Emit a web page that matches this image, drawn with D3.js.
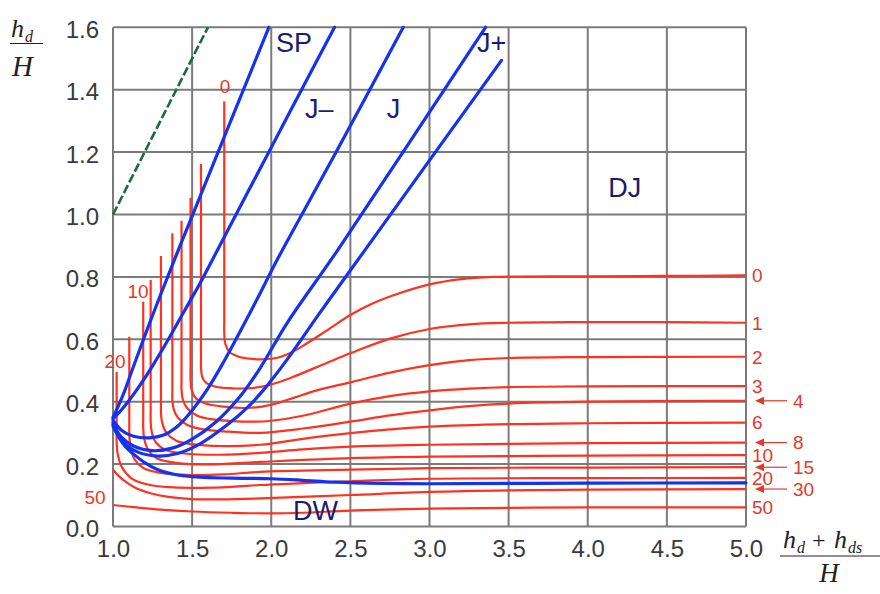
<!DOCTYPE html>
<html>
<head>
<meta charset="utf-8">
<script src="https://cdn.jsdelivr.net/npm/d3@7"></script>
<style>
  body { margin: 0; background: #fff; }
  text { font-family: "Liberation Sans", Arial, sans-serif; }
  text.math { font-family: "Liberation Serif", "Times New Roman", serif; }
</style>
</head>
<body>
<svg id="chart" width="880" height="594"></svg>
<script>
// Axis ticks
const xTicks = [1.0, 1.5, 2.0, 2.5, 3.0, 3.5, 4.0, 4.5, 5.0];
const yTicks = [0.0, 0.2, 0.4, 0.6, 0.8, 1.0, 1.2, 1.4, 1.6];

// Red family of curves, one trace per parameter value
const redLabels = ["0", "1", "2", "3", "4", "6", "8", "10", "15", "20", "30", "50"];
const red0 = [[1.703,1.362],[1.703,0.66],[1.703,0.62],[1.71,0.585],[1.735,0.56],[1.79,0.545],[1.88,0.537],[1.95,0.536],[2.04,0.541],[2.12,0.556],[2.2,0.579],[2.35,0.628],[2.5,0.678],[2.65,0.717],[2.8,0.746],[3.0,0.776],[3.2,0.793],[3.4,0.8],[4.0,0.802],[4.5,0.803],[5.0,0.805]];
const red1 = [[1.556,1.162],[1.556,0.54],[1.556,0.508],[1.564,0.479],[1.59,0.46],[1.65,0.448],[1.75,0.443],[1.85,0.443],[1.95,0.449],[2.05,0.463],[2.15,0.482],[2.35,0.524],[2.5,0.555],[2.75,0.602],[3.0,0.633],[3.25,0.648],[3.5,0.653],[4.0,0.655],[4.5,0.655],[5.0,0.653]];
const red2 = [[1.49,1.054],[1.49,0.5],[1.49,0.467],[1.497,0.437],[1.522,0.412],[1.58,0.395],[1.7,0.384],[1.85,0.38],[1.95,0.385],[2.05,0.397],[2.15,0.414],[2.3,0.438],[2.5,0.462],[2.75,0.493],[3.0,0.517],[3.25,0.533],[3.5,0.54],[4.0,0.543],[5.0,0.544]];
const red3 = [[1.433,0.98],[1.433,0.47],[1.433,0.437],[1.441,0.407],[1.468,0.38],[1.53,0.356],[1.62,0.344],[1.75,0.338],[1.9,0.336],[2.0,0.339],[2.2,0.355],[2.5,0.394],[2.75,0.418],[3.0,0.433],[3.25,0.442],[3.5,0.447],[4.0,0.449],[5.0,0.45]];
const red4 = [[1.375,0.94],[1.375,0.44],[1.375,0.407],[1.383,0.377],[1.408,0.35],[1.47,0.325],[1.56,0.312],[1.7,0.305],[1.93,0.3],[2.2,0.314],[2.5,0.336],[2.75,0.356],[3.0,0.372],[3.25,0.386],[3.5,0.394],[4.0,0.4],[5.0,0.403]];
const red6 = [[1.303,0.867],[1.303,0.4],[1.303,0.367],[1.311,0.332],[1.338,0.3],[1.4,0.275],[1.5,0.264],[1.68,0.258],[1.93,0.262],[2.2,0.281],[2.5,0.299],[2.75,0.311],[3.0,0.32],[3.5,0.328],[4.0,0.331],[5.0,0.333]];
const red8 = [[1.238,0.79],[1.238,0.37],[1.238,0.337],[1.245,0.302],[1.27,0.27],[1.33,0.246],[1.45,0.234],[1.68,0.23],[1.93,0.236],[2.2,0.247],[2.5,0.256],[3.0,0.262],[3.5,0.265],[4.0,0.267],[5.0,0.269]];
const red10 = [[1.191,0.72],[1.191,0.35],[1.191,0.317],[1.197,0.282],[1.223,0.245],[1.28,0.218],[1.4,0.204],[1.6,0.199],[1.93,0.207],[2.5,0.219],[3.0,0.224],[4.0,0.227],[5.0,0.229]];
const red15 = [[1.103,0.608],[1.103,0.33],[1.103,0.297],[1.11,0.257],[1.134,0.217],[1.19,0.188],[1.3,0.172],[1.5,0.165],[1.7,0.167],[1.93,0.175],[2.5,0.182],[3.0,0.187],[4.0,0.189],[5.0,0.19]];
const red20 = [[1.023,0.496],[1.023,0.31],[1.023,0.272],[1.03,0.232],[1.054,0.192],[1.11,0.157],[1.2,0.137],[1.35,0.126],[1.55,0.124],[1.75,0.127],[1.93,0.133],[2.2,0.139],[2.5,0.145],[3.0,0.153],[4.0,0.155],[5.0,0.156]];
const red30 = [[1.0,0.182],[1.04,0.16],[1.09,0.14],[1.15,0.122],[1.25,0.105],[1.35,0.095],[1.5,0.088],[1.7,0.087],[1.93,0.09],[2.5,0.101],[3.0,0.111],[3.5,0.116],[4.0,0.118],[5.0,0.12]];
const red50 = [[1.0,0.069],[1.15,0.061],[1.3,0.054],[1.5,0.048],[1.75,0.044],[2.0,0.042],[2.2,0.044],[2.5,0.051],[3.0,0.057],[3.5,0.06],[4.0,0.061],[5.0,0.0615]];
const redCurves = [red0, red1, red2, red3, red4, red6, red8, red10, red15, red20, red30, red50];
// end-of-curve labels that sit further out with a pointer
const arrowLabels = ["4", "8", "15", "30"];
// labels written beside the vertical branches: [label, x, y]
const branchLabels = [["0", 1.708, 1.41], ["10", 1.158, 0.753], ["20", 1.013, 0.531], ["50", 0.886, 0.095]];

// Blue regime boundaries
const blueSP = [[1.0,0.35],[1.03,0.382],[1.07,0.43],[1.12,0.5],[1.2,0.61],[1.3,0.742],[1.4,0.87],[1.5,0.995],[1.7,1.245],[1.985,1.6]];
const blueJminus = [[1.0,0.345],[1.05,0.372],[1.1,0.403],[1.16,0.445],[1.25,0.515],[1.35,0.6],[1.45,0.69],[1.55,0.78],[1.7,0.925],[2.0,1.215],[2.2,1.408],[2.4,1.6]];
const blueJ = [[1.0,0.34],[1.06,0.306],[1.13,0.289],[1.23,0.284],[1.32,0.293],[1.4,0.318],[1.48,0.36],[1.6,0.443],[1.7,0.528],[1.8,0.622],[1.92,0.738],[2.03,0.848],[2.41,1.2],[2.834,1.6]];
const blueJplus = [[1.0,0.333],[1.05,0.288],[1.13,0.258],[1.25,0.243],[1.38,0.252],[1.5,0.28],[1.65,0.335],[1.8,0.415],[1.93,0.508],[2.1,0.652],[2.42,0.886],[3.354,1.6]];
const blueJplus2 = [[1.0,0.327],[1.06,0.272],[1.15,0.24],[1.28,0.226],[1.4,0.233],[1.55,0.265],[1.72,0.325],[1.85,0.382],[1.95,0.437],[2.1,0.535],[2.3,0.68],[2.592,0.886],[3.455,1.494]];
const blueDW = [[1.0,0.322],[1.04,0.283],[1.08,0.255],[1.13,0.232],[1.2,0.205],[1.28,0.183],[1.4,0.166],[1.55,0.158],[1.75,0.155],[2.0,0.153],[2.2,0.148],[2.4,0.142],[2.7,0.138],[3.0,0.137],[4.0,0.139],[5.0,0.14]];
const blueCurves = [blueSP, blueJminus, blueJ, blueJplus, blueJplus2, blueDW];

// Regime names: [text, x, y]
const regimeLabels = [["SP", 2.03, 1.52], ["J–", 2.213, 1.31], ["J", 2.73, 1.31], ["J+", 3.3, 1.52], ["DJ", 4.13, 1.055], ["DW", 2.137, 0.021]];

// Limit line hd/H = (hd + hds)/H
const limitLine = [[1.0, 1.0], [1.6, 1.6]];

const svg = d3.select("#chart");
const x = d3.scaleLinear().domain([1, 5]).range([113, 746]);
const y = d3.scaleLinear().domain([0, 1.6]).range([526.5, 27.3]);

const gridColor = "#7b7b7b";
const redColor = "#ff3220";
const redText = "#e2392c";
const blueColor = "#1632f0";
const navy = "#1c1c6e";

// Grid
const grid = svg.append("g");
grid.selectAll("line.v").data(xTicks).join("line")
  .attr("x1", d => x(d)).attr("x2", d => x(d))
  .attr("y1", y(0)).attr("y2", y(1.6))
  .attr("stroke", gridColor).attr("stroke-width", 2);
grid.selectAll("line.h").data(yTicks).join("line")
  .attr("class", "h")
  .attr("x1", x(1)).attr("x2", x(5))
  .attr("y1", d => y(d)).attr("y2", d => y(d))
  .attr("stroke", gridColor).attr("stroke-width", 2);

// Tick labels via axes without domain or tick lines
const xAxis = svg.append("g").attr("transform", `translate(0,${y(0)})`)
  .call(d3.axisBottom(x).tickValues(xTicks).tickFormat(d3.format(".1f")).tickSize(0).tickPadding(12));
const yAxis = svg.append("g").attr("transform", `translate(${x(1)},0)`)
  .call(d3.axisLeft(y).tickValues(yTicks).tickFormat(d3.format(".1f")).tickSize(0).tickPadding(14));
[xAxis, yAxis].forEach(a => {
  a.select(".domain").remove();
  a.selectAll("text").attr("fill", "#3a3a3a")
    .style("font-size", "24px").style("font-family", "'Liberation Sans', Arial, sans-serif");
});
yAxis.selectAll("text").attr("dy", "0.42em");
xAxis.selectAll("text").attr("dy", "0.78em");

const line = d3.line().x(d => x(d[0])).y(d => y(d[1])).curve(d3.curveCatmullRom.alpha(0.5));

// Red curves
svg.append("g").selectAll("path").data(redCurves).join("path")
  .attr("d", line).attr("fill", "none")
  .attr("stroke", redColor).attr("stroke-width", 2.2);

// Limit line
svg.append("path").datum(limitLine).attr("d", d3.line().x(d => x(d[0])).y(d => y(d[1])))
  .attr("fill", "none").attr("stroke", "#1e6a3c").attr("stroke-width", 2.6)
  .attr("stroke-dasharray", "9,3");

// Blue curves
svg.append("g").selectAll("path").data(blueCurves).join("path")
  .attr("d", line).attr("fill", "none")
  .attr("stroke", blueColor).attr("stroke-width", 3.2)
  .attr("stroke-linecap", "round");

// Right-hand labels for the red curves
const ends = redCurves.map((c, i) => ({ label: redLabels[i], v: c[c.length - 1][1] }));
const rl = svg.append("g").style("font-size", "19px").attr("fill", redText);
ends.forEach(e => {
  const arrow = arrowLabels.includes(e.label);
  const yy = y(e.v);
  if (arrow) {
    rl.append("line").attr("x1", 787).attr("x2", 761).attr("y1", yy).attr("y2", yy)
      .attr("stroke", redText).attr("stroke-width", 1.2);
    rl.append("path")
      .attr("d", `M${755},${yy} L${764},${yy - 4} L${764},${yy + 4} Z`)
      .attr("fill", redText);
  }
  rl.append("text").attr("x", arrow ? 793 : 752).attr("y", yy).attr("dy", "0.36em").text(e.label);
});

// Labels beside the vertical branches
svg.append("g").style("font-size", "19px").attr("fill", redText)
  .selectAll("text").data(branchLabels).join("text")
  .attr("x", d => x(d[1])).attr("y", d => y(d[2])).attr("dy", "0.36em")
  .attr("text-anchor", "middle").text(d => d[0]);

// Regime names
svg.append("g").style("font-size", "27px").attr("fill", navy)
  .selectAll("text").data(regimeLabels).join("text")
  .attr("x", d => x(d[1])).attr("y", d => y(d[2])).text(d => d[0]);

// Axis titles (fractions), set in a serif italic
function mathText(g, px, py, size, str, italic = true, anchor = "start") {
  g.append("text").attr("class", "math").attr("x", px).attr("y", py)
    .attr("text-anchor", anchor)
    .style("font-size", size + "px").style("font-style", italic ? "italic" : "normal")
    .text(str);
}
const yt = svg.append("g").attr("fill", "#222");
mathText(yt, 11, 37, 26, "h");
mathText(yt, 25, 42, 16, "d");
yt.append("line").attr("x1", 10).attr("x2", 43).attr("y1", 43.5).attr("y2", 43.5).attr("stroke", "#222").attr("stroke-width", 1.2);
mathText(yt, 12, 76, 29, "H");

const xt = svg.append("g").attr("fill", "#222");
mathText(xt, 783, 548, 26, "h");
mathText(xt, 797, 553, 16, "d");
mathText(xt, 812, 548, 24, "+", false);
mathText(xt, 834, 548, 26, "h");
mathText(xt, 848, 553, 16, "ds");
xt.append("line").attr("x1", 780).attr("x2", 880).attr("y1", 556).attr("y2", 556).attr("stroke", "#222").attr("stroke-width", 1.2);
mathText(xt, 829, 582, 27, "H", true, "middle");
</script>
</body>
</html>
